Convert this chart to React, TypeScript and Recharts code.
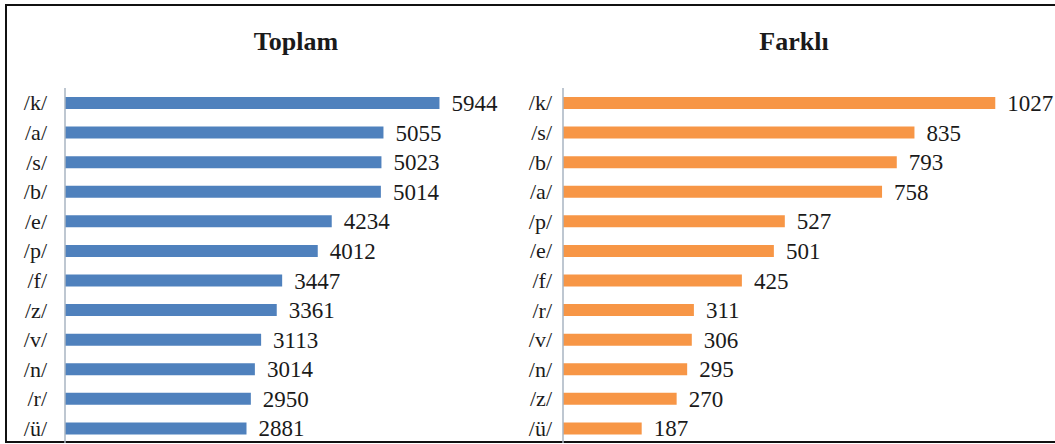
import { BarChart, Bar, XAxis, YAxis, LabelList } from "recharts";

const toplamSounds = ["/k/", "/a/", "/s/", "/b/", "/e/", "/p/", "/f/", "/z/", "/v/", "/n/", "/r/", "/ü/"];
const toplamValues = [5944, 5055, 5023, 5014, 4234, 4012, 3447, 3361, 3113, 3014, 2950, 2881];

const farkliSounds = ["/k/", "/s/", "/b/", "/a/", "/p/", "/e/", "/f/", "/r/", "/v/", "/n/", "/z/", "/ü/"];
const farkliValues = [1027, 835, 793, 758, 527, 501, 425, 311, 306, 295, 270, 187];

const serif = '"Liberation Serif", "Times New Roman", serif';
const ink = "#1a1a1a";

const SoundTick = (props: any) => {
  const { x, y, payload } = props;
  return (
    <text
      x={x}
      y={y}
      dy="0.35em"
      textAnchor="end"
      style={{ fontFamily: serif, fontSize: 22, fill: ink }}
    >
      {payload.value}
    </text>
  );
};

const ValueLabel = (props: any) => {
  const { x, y, width, height, value } = props;
  return (
    <text
      x={Number(x) + Number(width) + 12}
      y={Number(y) + Number(height) / 2}
      dy="0.35em"
      textAnchor="start"
      style={{ fontFamily: serif, fontSize: 23, fill: ink }}
    >
      {value}
    </text>
  );
};

function PanelChart({
  sounds,
  values,
  color,
  max,
  width,
  rightMargin,
  labelGap,
}: {
  sounds: string[];
  values: number[];
  color: string;
  max: number;
  width: number;
  rightMargin: number;
  labelGap: number;
}) {
  const data = sounds.map((name, i) => ({ name, value: values[i] }));
  return (
    <BarChart
      width={width}
      height={444}
      data={data}
      layout="vertical"
      margin={{ top: 88, right: rightMargin, bottom: 1, left: 0 }}
    >
      <XAxis type="number" domain={[0, max]} hide />
      <YAxis
        type="category"
        dataKey="name"
        width={65}
        axisLine={{ stroke: "#a9b4c2", strokeWidth: 1.5 }}
        tickLine={false}
        tickSize={0}
        tickMargin={labelGap}
        interval={0}
        tick={<SoundTick />}
      />
      <Bar dataKey="value" fill={color} barSize={12} isAnimationActive={false}>
        <LabelList dataKey="value" content={<ValueLabel />} />
      </Bar>
    </BarChart>
  );
}

const titleStyle: React.CSSProperties = {
  position: "absolute",
  top: 27,
  fontFamily: serif,
  fontWeight: "bold",
  fontSize: 26,
  color: ink,
  transform: "translateX(-50%)",
  whiteSpace: "nowrap",
};

export default function App() {
  return (
    <div
      style={{
        position: "absolute",
        left: 0,
        top: 0,
        width: 1055,
        height: 444,
        background: "#fff",
        overflow: "hidden",
      }}
    >
      <div
        style={{
          position: "absolute",
          left: 5,
          top: 4,
          width: 1060,
          height: 435,
          border: "2px solid #111",
          borderRight: "none",
        }}
      />
      <div style={{ ...titleStyle, left: 296 }}>Toplam</div>
      <div style={{ ...titleStyle, left: 794 }}>Farklı</div>
      <div style={{ position: "absolute", left: 0, top: 0 }}>
        <PanelChart
          sounds={toplamSounds}
          values={toplamValues}
          color="#4f81bd"
          max={6000}
          width={520}
          rightMargin={77}
          labelGap={18}
        />
      </div>
      <div style={{ position: "absolute", left: 498, top: 0 }}>
        <PanelChart
          sounds={farkliSounds}
          values={farkliValues}
          color="#f79646"
          max={1100}
          width={557}
          rightMargin={29}
          labelGap={11}
        />
      </div>
    </div>
  );
}
